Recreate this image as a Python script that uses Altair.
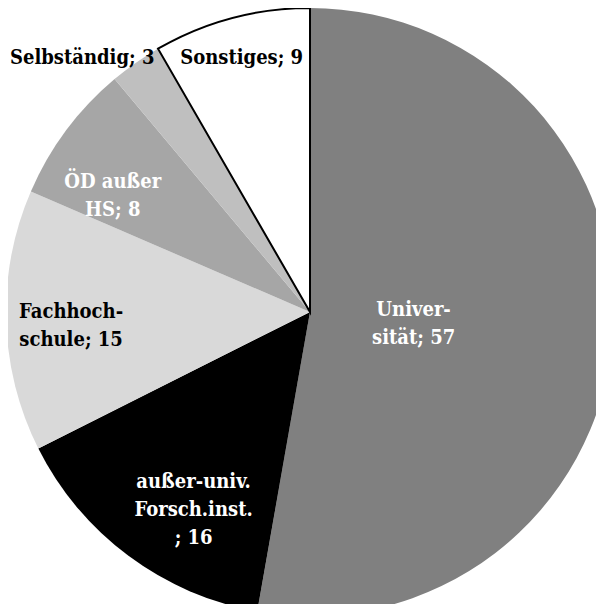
import altair as alt
import pandas as pd

categories = ["Universität", "außer-univ. Forsch.inst.", "Fachhochschule",
              "ÖD außer HS", "Selbständig", "Sonstiges"]
values = [57, 16, 15, 8, 3, 9]
labels = ["Univer-\nsität; 57", "außer-univ.\nForsch.inst.\n; 16", "Fachhoch-\nschule; 15",
          "ÖD außer\nHS; 8", "Selbständig; 3", "Sonstiges; 9"]
colors = ["#808080", "#000000", "#d9d9d9", "#a6a6a6", "#bfbfbf", "#ffffff"]

df = pd.DataFrame({"cat": categories, "value": values, "label": labels,
                   "idx": list(range(len(categories)))})

CX, CY, R = 302, 304, 304
FONT = "DejaVu Serif Condensed, DejaVu Serif"

base = alt.Chart(df).encode(
    theta=alt.Theta("value:Q", stack=True),
    order=alt.Order("idx:Q"),
)

pie = base.mark_arc(outerRadius=R, stroke="black").encode(
    color=alt.Color("cat:N", scale=alt.Scale(domain=categories, range=colors), legend=None),
    strokeWidth=alt.condition("datum.idx == 5", alt.value(2), alt.value(0)),
    x=alt.value(CX),
    y=alt.value(CY),
)

# label placement: (radius, dx, dy, text colour)
label_style = [
    (104, 0, -11, "white"),
    (210, 9, 2, "white"),
    (239, 0, -7, "black"),
    (236, -8, 11, "white"),
    (310, -50, 0, "black"),
    (264, 0, 1, "black"),
]

layers = [pie]
for i, (r, dx, dy, c) in enumerate(label_style):
    layers.append(
        base.transform_calculate(t=f"datum.idx == {i} ? datum.label : ''")
        .mark_text(radius=r, dx=dx, dy=dy, lineBreak="\n", color=c,
                   align="center", baseline="middle", font=FONT,
                   fontWeight="bold", fontSize=20, lineHeight=28)
        .encode(text="t:N", x=alt.value(CX), y=alt.value(CY))
    )

chart = alt.layer(*layers).properties(
    width=588, height=596, padding=0,
    autosize=alt.AutoSizeParams(type="none"),
).configure_view(stroke=None)

chart.save("out.html", embed_options={"renderer": "svg", "actions": False})
